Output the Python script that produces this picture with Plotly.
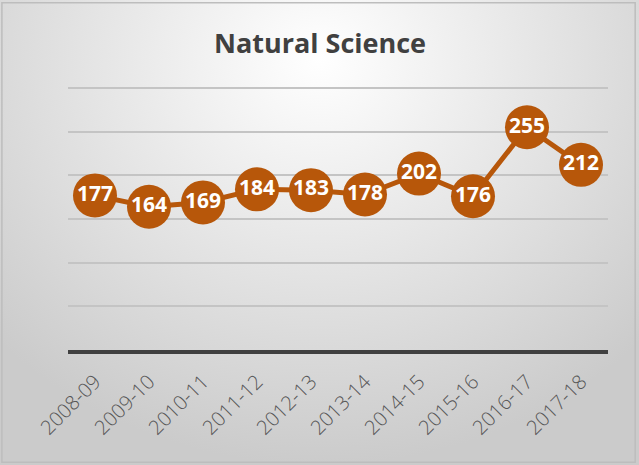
import plotly.graph_objects as go

# --- データ ---
years = ["2008-09", "2009-10", "2010-11", "2011-12", "2012-13",
         "2013-14", "2014-15", "2015-16", "2016-17", "2017-18"]
counts = [177, 164, 169, 184, 183, 178, 202, 176, 255, 212]

ORANGE = "#B7570A"
DARK = "#404040"
W, H = 639, 465

fig = go.Figure()

# 背景のグラデーション (x/y は背景専用の軸)
fig.add_trace(go.Scatter(
    x=[-0.2, 1.2, 1.2, -0.2, -0.2], y=[0, 0, 1.75, 1.75, 0],
    mode="lines", fill="toself", line=dict(width=0),
    fillgradient=dict(type="radial", colorscale=[[0, "#ffffff"], [1, "#cbcbcb"]]),
    hoverinfo="skip", showlegend=False, xaxis="x", yaxis="y"))

# 折れ線 + ラベル付きマーカー
fig.add_trace(go.Scatter(
    x=years, y=counts, mode="lines+markers+text",
    line=dict(color=ORANGE, width=5),
    marker=dict(color=ORANGE, size=44, line=dict(width=0)),
    text=[str(v) for v in counts], textposition="middle center",
    textfont=dict(family="Open Sans", size=21, color="white", weight="bold"),
    cliponaxis=False, showlegend=False, xaxis="x2", yaxis="y2"))

# y=0 -> 350px, y=300 -> 88px
px_per_unit = (350 - 88) / 300
y_top = 310

fig.update_layout(
    width=W, height=H,
    margin=dict(l=0, r=0, t=0, b=0, autoexpand=False),
    paper_bgcolor="#d8d8d8", plot_bgcolor="rgba(0,0,0,0)",
    xaxis=dict(domain=[0, 1], range=[0, 1], visible=False, fixedrange=True,
               automargin=False),
    yaxis=dict(domain=[0, 1], range=[0, 1], visible=False, fixedrange=True,
               automargin=False),
    xaxis2=dict(domain=[68 / W, 608 / W], anchor="y2", type="category",
                range=[-0.5, 9.5], showgrid=False, showline=True,
                linecolor=DARK, linewidth=4, ticks="", tickangle=-45,
                automargin=False, ticklabelstandoff=8,
                tickfont=dict(family="Open Sans", size=20, color="#555555",
                              weight=300)),
    yaxis2=dict(domain=[(H - 350) / H, (H - 350 + y_top * px_per_unit) / H],
                anchor="x2", range=[0, y_top],
                tickvals=[50, 100, 150, 200, 250, 300],
                showgrid=True, gridcolor="#c4c4c4",
                gridwidth=1.5, showticklabels=False, zeroline=False,
                automargin=False),
    annotations=[dict(text="<b>Natural Science</b>", x=0.5, y=(H - 42) / H,
                      xref="paper", yref="paper", showarrow=False,
                      xanchor="center", yanchor="middle",
                      font=dict(family="Open Sans", size=27, color=DARK))],
    shapes=[dict(type="rect", xref="paper", yref="paper",
                 x0=0.003, x1=0.994, y0=0.006, y1=0.994,
                 line=dict(color="#bdbdbd", width=1.5), layer="above")],
)

fig.write_html("out.html", config={"displayModeBar": False},
               post_script="document.body.style.margin='0';"
                           "document.body.style.overflow='hidden';")
